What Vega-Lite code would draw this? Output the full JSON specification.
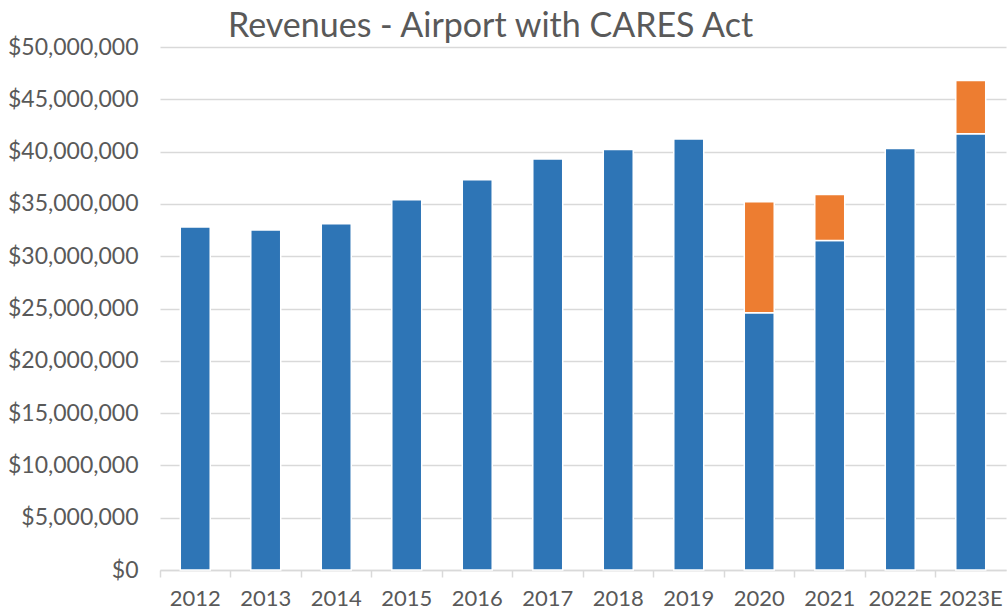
{
  "$schema": "https://vega.github.io/schema/vega-lite/v6.json",
  "autosize": {"type": "none"},
  "width": 846,
  "height": 523,
  "padding": {"left": 160, "top": 47, "right": 2, "bottom": 44},
  "background": "white",
  "title": {
    "text": "Revenues - Airport with CARES Act",
    "anchor": "start",
    "frame": "group",
    "dx": 68,
    "offset": -8,
    "font": "Lato",
    "fontSize": 34,
    "fontWeight": "normal",
    "color": "#595959"
  },
  "data": {
    "values": [
      {"year": "2012", "series": "Airport", "value": 32800000},
      {"year": "2013", "series": "Airport", "value": 32500000},
      {"year": "2014", "series": "Airport", "value": 33100000},
      {"year": "2015", "series": "Airport", "value": 35400000},
      {"year": "2016", "series": "Airport", "value": 37300000},
      {"year": "2017", "series": "Airport", "value": 39300000},
      {"year": "2018", "series": "Airport", "value": 40200000},
      {"year": "2019", "series": "Airport", "value": 41200000},
      {"year": "2020", "series": "Airport", "value": 24600000},
      {"year": "2020", "series": "CARES Act", "value": 10600000},
      {"year": "2021", "series": "Airport", "value": 31500000},
      {"year": "2021", "series": "CARES Act", "value": 4400000},
      {"year": "2022E", "series": "Airport", "value": 40300000},
      {"year": "2023E", "series": "Airport", "value": 41700000},
      {"year": "2023E", "series": "CARES Act", "value": 5100000}
    ]
  },
  "mark": {"type": "bar", "stroke": "white", "strokeWidth": 1.5},
  "encoding": {
    "x": {
      "field": "year",
      "type": "nominal",
      "sort": null,
      "title": null,
      "scale": {"paddingInner": 0.575, "paddingOuter": 0.2875},
      "axis": {
        "labelAngle": 0,
        "labelFont": "Lato",
        "labelFontSize": 22,
        "labelColor": "#595959",
        "labelPadding": 11,
        "bandPosition": -0.675,
        "tickSize": 7,
        "tickColor": "#d9d9d9",
        "tickWidth": 1.5,
        "domainColor": "#d9d9d9",
        "domainWidth": 1.5,
        "grid": false
      }
    },
    "y": {
      "field": "value",
      "type": "quantitative",
      "stack": "zero",
      "title": null,
      "scale": {"domain": [0, 50000000]},
      "axis": {
        "values": [0, 5000000, 10000000, 15000000, 20000000, 25000000, 30000000, 35000000, 40000000, 45000000, 50000000],
        "format": "$,.0f",
        "labelFont": "Lato",
        "labelFontSize": 23,
        "labelColor": "#595959",
        "labelPadding": 22,
        "domain": false,
        "ticks": false,
        "grid": true,
        "gridColor": "#d9d9d9",
        "gridWidth": 1.5
      }
    },
    "color": {
      "field": "series",
      "type": "nominal",
      "scale": {"domain": ["Airport", "CARES Act"], "range": ["#2E75B6", "#ED7D31"]},
      "legend": null
    },
    "order": {"field": "series", "sort": "ascending"}
  },
  "config": {"view": {"stroke": null}}
}
